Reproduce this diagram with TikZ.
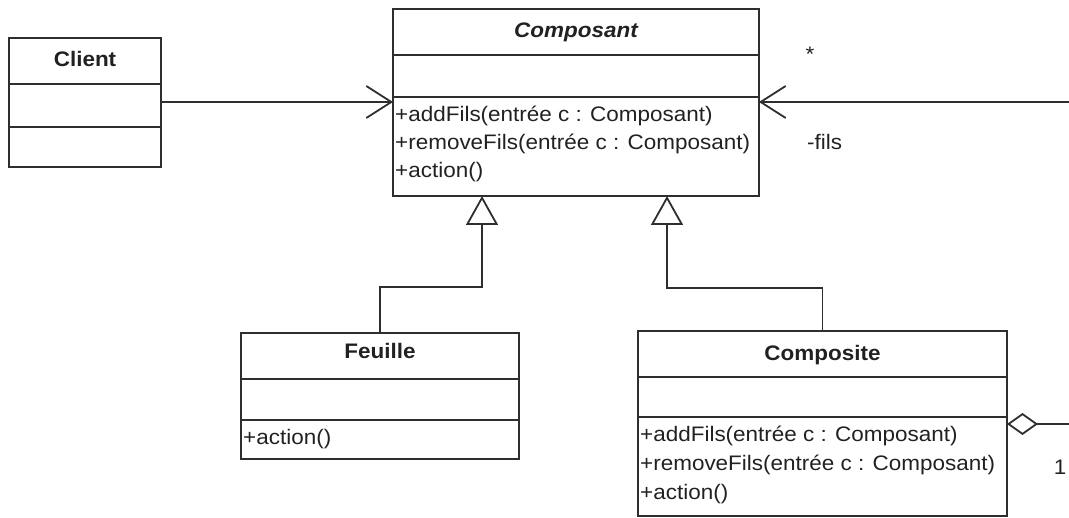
\documentclass[tikz,border=0pt]{standalone}
\usepackage{fontspec}
\setmainfont[FakeStretch=1.07]{Liberation Sans}
\usetikzlibrary{arrows.meta}
\definecolor{linegray}{gray}{0.18}
\definecolor{textgray}{gray}{0.13}

\begin{document}
\begin{tikzpicture}[x=1pt,y=-1pt,
  umlline/.style={draw=linegray, line width=1.8pt},
  classbox/.style={draw=linegray, line width=1.8pt, rectangle, inner sep=0pt,
    outer sep=0pt, anchor=north west},
  classname/.style={font=\fontsize{21}{25}\selectfont\bfseries, text=textgray,
    anchor=base, inner sep=0pt},
  member/.style={font=\fontsize{21}{25}\selectfont, text=textgray,
    anchor=base west, inner sep=0pt},
  endlabel/.style={font=\fontsize{21}{25}\selectfont, text=textgray, inner sep=0pt},
  navigable/.style={-{Straight Barb[length=25pt, width=32pt]}},
  generalization/.style={-{Triangle[open, fill=white, length=29pt, width=32pt]}},
  aggregation/.style={{Diamond[open, fill=white, length=31pt, width=22pt]}-}
]
\useasboundingbox (0,0) rectangle (1069,518);

% ---- Client ----
\node[classbox, minimum width=152pt, minimum height=129pt] (client) at (9,38) {};
\draw[umlline] (client.west |- 0,84) -- (client.east |- 0,84);
\draw[umlline] (client.west |- 0,127) -- (client.east |- 0,127);
\node[classname] (clientname) at (85,67) {Client};

% ---- Composant ----
\node[classbox, minimum width=366pt, minimum height=187pt] (composant) at (393,9) {};
\draw[umlline] (composant.west |- 0,55) -- (composant.east |- 0,55);
\draw[umlline] (composant.west |- 0,97) -- (composant.east |- 0,97);
\node[classname, font=\fontsize{21}{25}\selectfont\bfseries\itshape] (composantname) at (576,38) {Composant};
\node[member] (composantm1) at (395,122) {+addFils(entrée c : Composant)};
\node[member] (composantm2) at (395,150) {+removeFils(entrée c : Composant)};
\node[member] (composantm3) at (395,178) {+action()};

% ---- Feuille ----
\node[classbox, minimum width=278pt, minimum height=126pt] (feuille) at (241,333) {};
\draw[umlline] (feuille.west |- 0,379) -- (feuille.east |- 0,379);
\draw[umlline] (feuille.west |- 0,420) -- (feuille.east |- 0,420);
\node[classname] (feuillename) at (380,359) {Feuille};
\node[member] (feuillem1) at (243,445) {+action()};

% ---- Composite ----
\node[classbox, minimum width=369pt, minimum height=185pt] (composite) at (638,331) {};
\draw[umlline] (composite.west |- 0,377) -- (composite.east |- 0,377);
\draw[umlline] (composite.west |- 0,417) -- (composite.east |- 0,417);
\node[classname] (compositename) at (822.5,361) {Composite};
\node[member] (compositem1) at (640,442) {+addFils(entrée c : Composant)};
\node[member] (compositem2) at (640,471) {+removeFils(entrée c : Composant)};
\node[member] (compositem3) at (640,500) {+action()};

% ---- Associations ----
\draw[umlline, navigable] (client.east |- 0,102) -- (composant.west |- 0,102);

\coordinate (filsend) at (1069,102);
\draw[umlline, navigable] (filsend) -- (composant.east |- filsend);
\node[endlabel, anchor=base] (mult) at (810,62) {*};
\node[endlabel, anchor=base west] (role) at (807,150) {-fils};

\coordinate (aggend) at (1069,424);
\draw[umlline, aggregation] (composite.east |- aggend) -- (aggend);
\node[endlabel, anchor=base] (one) at (1060,475) {1};

% ---- Generalizations ----
\draw[umlline, generalization] (feuille.north) |- (482,287) -- (482,0 |- composant.south);
\draw[umlline, generalization] (composite.north) |- (667,288) -- (667,0 |- composant.south);
\end{tikzpicture}
\end{document}
